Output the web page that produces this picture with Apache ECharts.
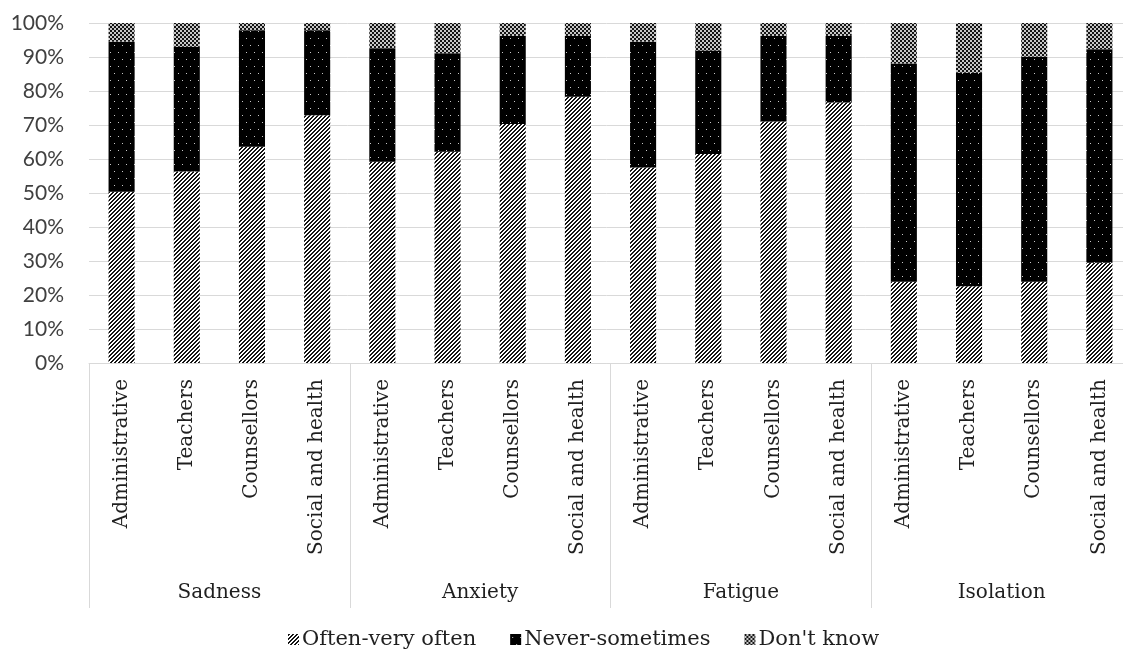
<!DOCTYPE html>
<html>
<head>
<meta charset="utf-8">
<script src="https://cdn.jsdelivr.net/npm/echarts@6/dist/echarts.min.js"></script>
<style>
html,body{margin:0;padding:0;background:#fff;overflow:hidden;}
#chart{width:1123px;height:657px;}
</style>
</head>
<body>
<div id="chart"></div>
<script>
const groups = ['Sadness', 'Anxiety', 'Fatigue', 'Isolation'];
const roles = ['Administrative', 'Teachers', 'Counsellors', 'Social and health'];
const seriesNames = ['Often-very often', 'Never-sometimes', "Don't know"];
// values in percent, order: Sadness x4, Anxiety x4, Fatigue x4, Isolation x4
const oftenVeryOften = [50.4, 56.3, 63.6, 72.9, 59.2, 62.1, 70.3, 78.3, 57.5, 61.5, 71.0, 76.6, 23.9, 22.6, 23.9, 29.5];
const neverSometimes = [44.1, 36.7, 34.3, 25.0, 33.4, 29.0, 25.9, 17.9, 37.0, 30.4, 25.2, 19.6, 64.2, 62.8, 66.2, 62.8];
const dontKnow = [5.5, 7.0, 2.1, 2.1, 7.4, 8.9, 3.8, 3.8, 5.5, 8.1, 3.8, 3.8, 11.9, 14.6, 9.9, 7.7];
const yTicks = [0, 10, 20, 30, 40, 50, 60, 70, 80, 90, 100];

const categories = [];
groups.forEach(() => roles.forEach(r => categories.push(r)));

function makePattern(w, h, fn) {
  const c = document.createElement('canvas');
  c.width = w; c.height = h;
  const ctx = c.getContext('2d');
  const img = ctx.createImageData(w, h);
  for (let y = 0; y < h; y++) {
    for (let x = 0; x < w; x++) {
      const v = fn(x, y);
      const i = (y * w + x) * 4;
      img.data[i] = v; img.data[i + 1] = v; img.data[i + 2] = v; img.data[i + 3] = 255;
    }
  }
  ctx.putImageData(img, 0, 0);
  return c;
}
const stripes = makePattern(4, 4, (x, y) => ((x + y) % 4) < 2 ? 20 : 255);
const dots = makePattern(8, 14, (x, y) => ((x === 2 && y === 3) || (x === 6 && y === 10)) ? 200 : 0);
const checker = makePattern(4, 4, (x, y) => (((x < 2) === (y < 2)) ? 20 : 200));

const fills = [stripes, dots, checker];
const dataArrays = [oftenVeryOften, neverSometimes, dontKnow];

const serif = 'DejaVu Serif';
const textColor = '#1f1f1f';
const gridColor = '#d9d9d9';

const chart = echarts.init(document.getElementById('chart'), null, { renderer: 'canvas' });
chart.setOption({
  animation: false,
  backgroundColor: '#fff',
  grid: { left: 89, width: 1043, top: 23, bottom: 294, containLabel: false, outerBoundsMode: 'none' },
  legend: {
    bottom: 2,
    left: 283,
    itemWidth: 11,
    itemHeight: 11,
    itemGap: 34,
    icon: 'rect',
    textStyle: { fontFamily: serif, fontSize: 21, color: textColor, padding: [0, 0, 0, -2] },
    data: seriesNames
  },
  xAxis: [
    {
      type: 'category',
      data: categories,
      position: 'bottom',
      axisLine: { show: true, lineStyle: { color: gridColor, width: 1 } },
      axisTick: { show: false },
      axisLabel: { interval: 0, rotate: 90, margin: 16, fontFamily: serif, fontSize: 20, color: textColor }
    },
    {
      type: 'category',
      data: groups,
      position: 'bottom',
      offset: 245,
      axisLine: { show: false },
      axisTick: { show: true, inside: true, length: 245, lineStyle: { color: gridColor, width: 1 } },
      axisLabel: { interval: 0, inside: true, margin: 5, fontFamily: serif, fontSize: 20, color: textColor }
    }
  ],
  yAxis: {
    type: 'value',
    min: yTicks[0],
    max: yTicks[yTicks.length - 1],
    interval: 10,
    axisLine: { show: false },
    axisTick: { show: false },
    splitLine: { show: true, lineStyle: { color: gridColor, width: 1 } },
    axisLabel: { formatter: '{value}%', margin: 25, fontFamily: 'Lato', fontSize: 21, color: '#404040' }
  },
  series: seriesNames.map((name, i) => ({
    name: name,
    type: 'bar',
    stack: 'total',
    xAxisIndex: 0,
    barWidth: '40%',
    itemStyle: { color: { image: fills[i], repeat: 'repeat' } },
    data: dataArrays[i]
  }))
});
</script>
</body>
</html>
